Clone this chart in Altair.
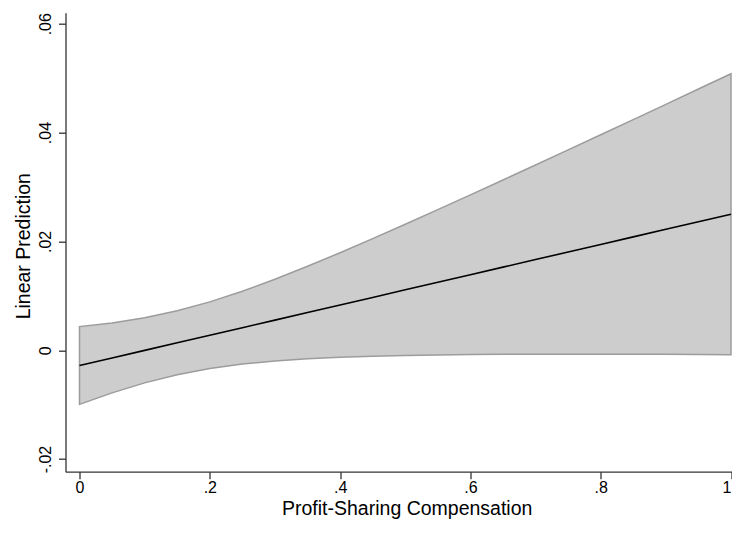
import altair as alt
import pandas as pd

# Values
x_vals = [0.0, 0.05, 0.1, 0.15, 0.2, 0.25, 0.3, 0.35, 0.4, 0.45, 0.5,
          0.55, 0.6, 0.65, 0.7, 0.75, 0.8, 0.85, 0.9, 0.95, 1.0]
pred_vals = [-0.00280, -0.00141, -0.00002, 0.00137, 0.00276, 0.00415, 0.00554,
             0.00693, 0.00832, 0.00971, 0.01110, 0.01249, 0.01388, 0.01527,
             0.01666, 0.01805, 0.01944, 0.02083, 0.02222, 0.02361, 0.02500]
upper_vals = [0.00435, 0.00502, 0.00596, 0.00725, 0.00889, 0.01084, 0.01305,
              0.01543, 0.01792, 0.02051, 0.02315, 0.02584, 0.02855, 0.03129,
              0.03405, 0.03682, 0.03960, 0.04239, 0.04519, 0.04800, 0.05081]
lower_vals = [-0.00995, -0.00784, -0.00600, -0.00451, -0.00337, -0.00254,
              -0.00197, -0.00157, -0.00128, -0.00109, -0.00095, -0.00086,
              -0.00079, -0.00075, -0.00073, -0.00072, -0.00072, -0.00073,
              -0.00075, -0.00078, -0.00081]

x_tick_values = [0, 0.2, 0.4, 0.6, 0.8, 1]
x_tick_labels = ["0", ".2", ".4", ".6", ".8", "1"]
y_tick_values = [-0.02, 0, 0.02, 0.04, 0.06]
y_tick_labels = ["-.02", "0", ".02", ".04", ".06"]

x_title = "Profit-Sharing Compensation"
y_title = "Linear Prediction"

df = pd.DataFrame({"x": x_vals, "pred": pred_vals,
                   "upper": upper_vals, "lower": lower_vals})


def label_expr(values, labels):
    expr = "''"
    for v, l in reversed(list(zip(values, labels))):
        expr = f"abs(datum.value - ({v})) < 1e-9 ? '{l}' : ({expr})"
    return expr


FONT = "Liberation Sans"
AXIS_COLOR = "#333333"

PLOT_W = 666.5
PLOT_H = 459

x_scale = alt.Scale(domain=[-0.02149, 1.00153], zero=False, nice=False)
y_scale = alt.Scale(domain=[-0.02232, 0.06203], zero=False, nice=False)

x_axis = alt.Axis(
    values=x_tick_values, labelExpr=label_expr(x_tick_values, x_tick_labels),
    title=x_title, grid=False, tickSize=7, labelPadding=13.8,
    labelBaseline="alphabetic", labelFontSize=16, labelFont=FONT,
    labelColor="#000000", titleFont=FONT, titleFontSize=19.5,
    titleFontWeight="normal", titleColor="#000000", titleBaseline="alphabetic",
    titleY=42.3, titleX=341.2, titleAnchor="start", titleAlign="center",
    domainColor=AXIS_COLOR, tickColor=AXIS_COLOR, domainWidth=1.3, tickWidth=1.3,
    labelFlush=2, labelOverlap=False,
)
y_axis = alt.Axis(
    values=y_tick_values, labelExpr=label_expr(y_tick_values, y_tick_labels),
    title=y_title, grid=False, tickSize=7, labelPadding=8.5, labelAngle=270,
    labelAlign="center", labelBaseline="alphabetic", labelFontSize=16,
    labelFont=FONT, labelColor="#000000", titleFont=FONT, titleFontSize=19.5,
    titleFontWeight="normal", titleColor="#000000", titleAngle=270,
    titleBaseline="alphabetic", titleAlign="center", titleX=-36, titleY=233,
    titleAnchor="start",
    domainColor=AXIS_COLOR, tickColor=AXIS_COLOR, domainWidth=1.3, tickWidth=1.3,
    labelFlush=False, labelOverlap=False,
)

base = alt.Chart(df)

band = base.mark_area(color="#cdcdcd", opacity=1, stroke="#9c9c9c",
                      strokeWidth=1.5).encode(
    x=alt.X("x:Q", scale=x_scale, axis=x_axis),
    y=alt.Y("lower:Q", scale=y_scale, axis=y_axis),
    y2="upper:Q",
)

line = base.mark_line(color="#000000", strokeWidth=1.6).encode(
    x=alt.X("x:Q", scale=x_scale),
    y=alt.Y("pred:Q", scale=y_scale),
)

chart = alt.layer(band, line).properties(
    width=PLOT_W, height=PLOT_H,
    autosize=alt.AutoSizeParams(type="none"),
    padding={"left": 57.5, "top": 4.7, "right": 0, "bottom": 48.3},
    background="#ffffff",
).configure_view(stroke=None)

chart.save("out.html", embed_options={"renderer": "svg", "actions": False})
